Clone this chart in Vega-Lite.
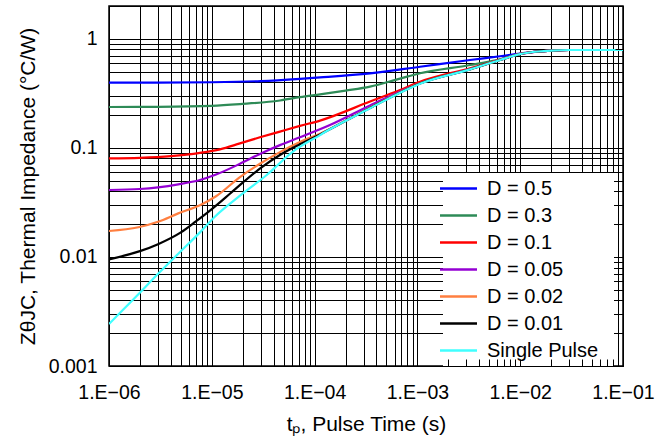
{
  "$schema": "https://vega.github.io/schema/vega-lite/v6.json",
  "width": 514,
  "height": 360,
  "autosize": {"type": "none"},
  "padding": {"left": 109, "top": 6, "right": 38, "bottom": 77},
  "background": "white",
  "config": {
    "font": "Liberation Sans",
    "view": {"stroke": "black", "strokeWidth": 1.5}
  },
  "data": {
    "values": [
      {"series": "D = 0.5", "t": 1e-6, "z": 0.396},
      {"series": "D = 0.5", "t": 3e-6, "z": 0.397},
      {"series": "D = 0.5", "t": 1e-5, "z": 0.400},
      {"series": "D = 0.5", "t": 3e-5, "z": 0.410},
      {"series": "D = 0.5", "t": 7.2e-5, "z": 0.430},
      {"series": "D = 0.5", "t": 1.13e-4, "z": 0.443},
      {"series": "D = 0.5", "t": 3.46e-4, "z": 0.483},
      {"series": "D = 0.5", "t": 1.06e-3, "z": 0.555},
      {"series": "D = 0.5", "t": 3.25e-3, "z": 0.640},
      {"series": "D = 0.5", "t": 6.37e-3, "z": 0.692},
      {"series": "D = 0.5", "t": 1e-2, "z": 0.733},
      {"series": "D = 0.5", "t": 1.5e-2, "z": 0.766},
      {"series": "D = 0.5", "t": 2e-2, "z": 0.780},
      {"series": "D = 0.5", "t": 3e-2, "z": 0.790},
      {"series": "D = 0.5", "t": 1e-1, "z": 0.790},

      {"series": "D = 0.3", "t": 1e-6, "z": 0.237},
      {"series": "D = 0.3", "t": 3e-6, "z": 0.238},
      {"series": "D = 0.3", "t": 1e-5, "z": 0.243},
      {"series": "D = 0.3", "t": 1.88e-5, "z": 0.252},
      {"series": "D = 0.3", "t": 4.6e-5, "z": 0.272},
      {"series": "D = 0.3", "t": 7.2e-5, "z": 0.292},
      {"series": "D = 0.3", "t": 1.13e-4, "z": 0.310},
      {"series": "D = 0.3", "t": 2e-4, "z": 0.335},
      {"series": "D = 0.3", "t": 3.46e-4, "z": 0.364},
      {"series": "D = 0.3", "t": 6.78e-4, "z": 0.432},
      {"series": "D = 0.3", "t": 1.06e-3, "z": 0.483},
      {"series": "D = 0.3", "t": 3.25e-3, "z": 0.575},
      {"series": "D = 0.3", "t": 6.37e-3, "z": 0.650},
      {"series": "D = 0.3", "t": 1e-2, "z": 0.728},
      {"series": "D = 0.3", "t": 1.5e-2, "z": 0.765},
      {"series": "D = 0.3", "t": 2e-2, "z": 0.780},
      {"series": "D = 0.3", "t": 3e-2, "z": 0.790},
      {"series": "D = 0.3", "t": 1e-1, "z": 0.790},

      {"series": "D = 0.1", "t": 1e-6, "z": 0.080},
      {"series": "D = 0.1", "t": 2e-6, "z": 0.081},
      {"series": "D = 0.1", "t": 4e-6, "z": 0.084},
      {"series": "D = 0.1", "t": 7.67e-6, "z": 0.090},
      {"series": "D = 0.1", "t": 1.2e-5, "z": 0.097},
      {"series": "D = 0.1", "t": 1.88e-5, "z": 0.110},
      {"series": "D = 0.1", "t": 2.94e-5, "z": 0.125},
      {"series": "D = 0.1", "t": 4.6e-5, "z": 0.141},
      {"series": "D = 0.1", "t": 7.2e-5, "z": 0.159},
      {"series": "D = 0.1", "t": 1.13e-4, "z": 0.178},
      {"series": "D = 0.1", "t": 3.46e-4, "z": 0.266},
      {"series": "D = 0.1", "t": 6.78e-4, "z": 0.340},
      {"series": "D = 0.1", "t": 1.06e-3, "z": 0.404},
      {"series": "D = 0.1", "t": 3.25e-3, "z": 0.537},
      {"series": "D = 0.1", "t": 6.37e-3, "z": 0.645},
      {"series": "D = 0.1", "t": 1e-2, "z": 0.728},
      {"series": "D = 0.1", "t": 1.5e-2, "z": 0.765},
      {"series": "D = 0.1", "t": 2e-2, "z": 0.780},
      {"series": "D = 0.1", "t": 3e-2, "z": 0.790},
      {"series": "D = 0.1", "t": 1e-1, "z": 0.790},

      {"series": "D = 0.05", "t": 1e-6, "z": 0.0411},
      {"series": "D = 0.05", "t": 2e-6, "z": 0.0420},
      {"series": "D = 0.05", "t": 3e-6, "z": 0.0435},
      {"series": "D = 0.05", "t": 4.72e-6, "z": 0.0463},
      {"series": "D = 0.05", "t": 7.67e-6, "z": 0.0508},
      {"series": "D = 0.05", "t": 1.1e-5, "z": 0.0570},
      {"series": "D = 0.05", "t": 1.88e-5, "z": 0.0715},
      {"series": "D = 0.05", "t": 2.94e-5, "z": 0.0880},
      {"series": "D = 0.05", "t": 4.6e-5, "z": 0.106},
      {"series": "D = 0.05", "t": 7.2e-5, "z": 0.125},
      {"series": "D = 0.05", "t": 1.41e-4, "z": 0.162},
      {"series": "D = 0.05", "t": 3.46e-4, "z": 0.245},
      {"series": "D = 0.05", "t": 1.06e-3, "z": 0.392},
      {"series": "D = 0.05", "t": 3.25e-3, "z": 0.527},
      {"series": "D = 0.05", "t": 6.37e-3, "z": 0.642},
      {"series": "D = 0.05", "t": 1e-2, "z": 0.727},
      {"series": "D = 0.05", "t": 1.5e-2, "z": 0.765},
      {"series": "D = 0.05", "t": 2e-2, "z": 0.780},
      {"series": "D = 0.05", "t": 3e-2, "z": 0.790},
      {"series": "D = 0.05", "t": 1e-1, "z": 0.790},

      {"series": "D = 0.02", "t": 1e-6, "z": 0.0173},
      {"series": "D = 0.02", "t": 1.93e-6, "z": 0.0187},
      {"series": "D = 0.02", "t": 3e-6, "z": 0.0210},
      {"series": "D = 0.02", "t": 4.72e-6, "z": 0.0251},
      {"series": "D = 0.02", "t": 7.67e-6, "z": 0.0298},
      {"series": "D = 0.02", "t": 1.1e-5, "z": 0.0360},
      {"series": "D = 0.02", "t": 1.88e-5, "z": 0.0540},
      {"series": "D = 0.02", "t": 2.94e-5, "z": 0.0715},
      {"series": "D = 0.02", "t": 4.6e-5, "z": 0.0915},
      {"series": "D = 0.02", "t": 7.2e-5, "z": 0.113},
      {"series": "D = 0.02", "t": 1.13e-4, "z": 0.135},
      {"series": "D = 0.02", "t": 3.46e-4, "z": 0.234},
      {"series": "D = 0.02", "t": 1.06e-3, "z": 0.391},
      {"series": "D = 0.02", "t": 3.25e-3, "z": 0.526},
      {"series": "D = 0.02", "t": 6.37e-3, "z": 0.641},
      {"series": "D = 0.02", "t": 1e-2, "z": 0.726},
      {"series": "D = 0.02", "t": 1.5e-2, "z": 0.765},
      {"series": "D = 0.02", "t": 2e-2, "z": 0.780},
      {"series": "D = 0.02", "t": 3e-2, "z": 0.790},
      {"series": "D = 0.02", "t": 1e-1, "z": 0.790},

      {"series": "D = 0.01", "t": 1e-6, "z": 0.0095},
      {"series": "D = 0.01", "t": 2e-6, "z": 0.0113},
      {"series": "D = 0.01", "t": 3e-6, "z": 0.0131},
      {"series": "D = 0.01", "t": 5e-6, "z": 0.0168},
      {"series": "D = 0.01", "t": 7e-6, "z": 0.0212},
      {"series": "D = 0.01", "t": 1e-5, "z": 0.0275},
      {"series": "D = 0.01", "t": 1.5e-5, "z": 0.0380},
      {"series": "D = 0.01", "t": 2e-5, "z": 0.0480},
      {"series": "D = 0.01", "t": 3e-5, "z": 0.0655},
      {"series": "D = 0.01", "t": 4.6e-5, "z": 0.0860},
      {"series": "D = 0.01", "t": 7.2e-5, "z": 0.108},
      {"series": "D = 0.01", "t": 1.13e-4, "z": 0.133},
      {"series": "D = 0.01", "t": 3.46e-4, "z": 0.232},
      {"series": "D = 0.01", "t": 1.06e-3, "z": 0.390},
      {"series": "D = 0.01", "t": 3.25e-3, "z": 0.525},
      {"series": "D = 0.01", "t": 6.37e-3, "z": 0.640},
      {"series": "D = 0.01", "t": 1e-2, "z": 0.725},
      {"series": "D = 0.01", "t": 1.5e-2, "z": 0.765},
      {"series": "D = 0.01", "t": 2e-2, "z": 0.780},
      {"series": "D = 0.01", "t": 3e-2, "z": 0.790},
      {"series": "D = 0.01", "t": 1e-1, "z": 0.790},

      {"series": "Single Pulse", "t": 1e-6, "z": 0.00243},
      {"series": "Single Pulse", "t": 1.93e-6, "z": 0.00454},
      {"series": "Single Pulse", "t": 3e-6, "z": 0.00700},
      {"series": "Single Pulse", "t": 4.72e-6, "z": 0.0107},
      {"series": "Single Pulse", "t": 7.67e-6, "z": 0.0168},
      {"series": "Single Pulse", "t": 1.07e-5, "z": 0.0234},
      {"series": "Single Pulse", "t": 1.88e-5, "z": 0.0365},
      {"series": "Single Pulse", "t": 3.42e-5, "z": 0.0564},
      {"series": "Single Pulse", "t": 6.2e-5, "z": 0.0930},
      {"series": "Single Pulse", "t": 1.13e-4, "z": 0.131},
      {"series": "Single Pulse", "t": 1.41e-4, "z": 0.148},
      {"series": "Single Pulse", "t": 3.46e-4, "z": 0.231},
      {"series": "Single Pulse", "t": 6.78e-4, "z": 0.321},
      {"series": "Single Pulse", "t": 1.06e-3, "z": 0.388},
      {"series": "Single Pulse", "t": 3.25e-3, "z": 0.525},
      {"series": "Single Pulse", "t": 6.37e-3, "z": 0.640},
      {"series": "Single Pulse", "t": 1e-2, "z": 0.725},
      {"series": "Single Pulse", "t": 1.5e-2, "z": 0.765},
      {"series": "Single Pulse", "t": 2e-2, "z": 0.780},
      {"series": "Single Pulse", "t": 3e-2, "z": 0.790},
      {"series": "Single Pulse", "t": 1e-1, "z": 0.790}
    ]
  },
  "layer": [
    {
      "mark": {"type": "line", "interpolate": "monotone", "strokeWidth": 2.2, "clip": true},
      "encoding": {
        "x": {
          "field": "t", "type": "quantitative",
          "scale": {"type": "log", "domain": [1e-6, 0.1], "nice": false},
          "axis": {
            "values": [1e-6,2e-6,3e-6,4e-6,5e-6,6e-6,7e-6,8e-6,9e-6,1e-5,2e-5,3e-5,4e-5,5e-5,6e-5,7e-5,8e-5,9e-5,1e-4,2e-4,3e-4,4e-4,5e-4,6e-4,7e-4,8e-4,9e-4,1e-3,2e-3,3e-3,4e-3,5e-3,6e-3,7e-3,8e-3,9e-3,1e-2,2e-2,3e-2,4e-2,5e-2,6e-2,7e-2,8e-2,9e-2,1e-1],
            "grid": true, "gridColor": "black", "gridOpacity": 1, "gridWidth": 1,
            "ticks": false, "tickSize": 0, "domain": false,
            "labelExpr": "abs(log(datum.value)/LN10 - round(log(datum.value)/LN10)) < 0.01 ? '1.E\u22120' + (-round(log(datum.value)/LN10)) : ''",
            "labelFontSize": 19.5, "labelColor": "black", "labelPadding": 17,
            "labelOverlap": false, "labelFlush": false, "labelBound": false,
            "title": "t\u209a, Pulse Time (s)", "titleFontSize": 21, "titleFontWeight": "normal",
            "titleColor": "black", "titlePadding": 12
          }
        },
        "y": {
          "field": "z", "type": "quantitative",
          "scale": {"type": "log", "domain": [0.001, 2], "nice": false},
          "axis": {
            "values": [0.001,0.002,0.003,0.004,0.005,0.006,0.007,0.008,0.009,0.01,0.02,0.03,0.04,0.05,0.06,0.07,0.08,0.09,0.1,0.2,0.3,0.4,0.5,0.6,0.7,0.8,0.9,1,2],
            "grid": true, "gridColor": "black", "gridOpacity": 1, "gridWidth": 1,
            "ticks": false, "tickSize": 0, "domain": false,
            "labelExpr": "abs(log(datum.value)/LN10 - round(log(datum.value)/LN10)) < 0.01 ? format(datum.value, '~g') : ''",
            "labelFontSize": 19.5, "labelColor": "black", "labelPadding": 12,
            "labelOverlap": false, "labelFlush": false, "labelBound": false,
            "title": "Z\u03b8JC, Thermal Impedance (\u00b0C/W)", "titleFontSize": 21, "titleFontWeight": "normal",
            "titleColor": "black", "titlePadding": 10
          }
        },
        "color": {
          "field": "series", "type": "nominal",
          "scale": {
            "domain": ["D = 0.5", "D = 0.3", "D = 0.1", "D = 0.05", "D = 0.02", "D = 0.01", "Single Pulse"],
            "range": ["#0000ff", "#2e8b57", "#ff0000", "#9400d3", "#ff7f40", "#000000", "#40ffff"]
          },
          "legend": {
            "title": "W", "titleOrient": "right", "titleOpacity": 0, "titleFontSize": 6, "titlePadding": 5,
            "orient": "none", "legendX": 334, "legendY": 167,
            "fillColor": "white", "padding": 5,
            "symbolType": "M-2,0H2", "symbolSize": 342, "symbolStrokeWidth": 2.5,
            "labelFontSize": 20, "labelColor": "black", "labelOffset": 18,
            "rowPadding": 6.0, "labelLimit": 0,
            "zindex": 0
          }
        }
      }
    },
    {
      "mark": {"type": "point", "opacity": 0},
      "encoding": {
        "x": {
          "field": "t", "type": "quantitative",
          "scale": {"type": "log", "domain": [1e-6, 0.1], "nice": false},
          "axis": {
            "orient": "bottom",
            "values": [1e-6,2e-6,3e-6,4e-6,5e-6,6e-6,7e-6,8e-6,9e-6,1e-5,2e-5,3e-5,4e-5,5e-5,6e-5,7e-5,8e-5,9e-5,1e-4,2e-4,3e-4,4e-4,5e-4,6e-4,7e-4,8e-4,9e-4,1e-3,2e-3,3e-3,4e-3,5e-3,6e-3,7e-3,8e-3,9e-3,1e-2,2e-2,3e-2,4e-2,5e-2,6e-2,7e-2,8e-2,9e-2,1e-1],
            "grid": false, "labels": false, "domain": false,
            "ticks": true, "tickSize": -7, "tickColor": "black", "tickWidth": 1,
            "title": null, "zindex": 1
          }
        },
        "y": {
          "field": "z", "type": "quantitative",
          "scale": {"type": "log", "domain": [0.001, 2], "nice": false},
          "axis": {
            "orient": "right",
            "values": [0.001,0.002,0.003,0.004,0.005,0.006,0.007,0.008,0.009,0.01,0.02,0.03,0.04,0.05,0.06,0.07,0.08,0.09,0.1,0.2,0.3,0.4,0.5,0.6,0.7,0.8,0.9,1,2],
            "grid": false, "labels": false, "domain": false,
            "ticks": true, "tickSize": -8, "tickColor": "black", "tickWidth": 1,
            "title": null, "zindex": 1
          }
        }
      }
    }
  ],
  "resolve": {"axis": {"x": "independent", "y": "independent"}}
}
